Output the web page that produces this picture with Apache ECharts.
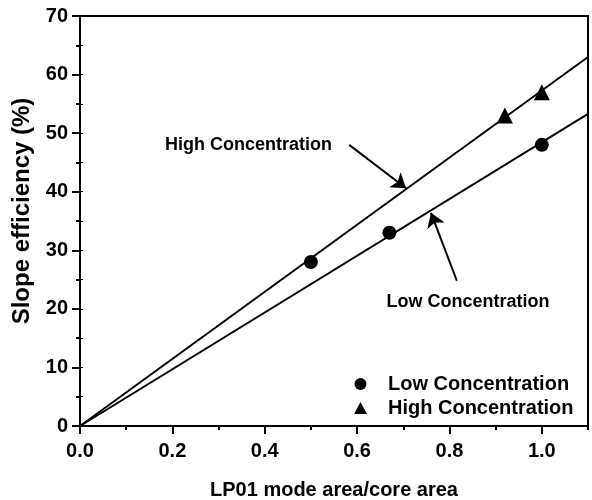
<!DOCTYPE html>
<html>
<head>
<meta charset="utf-8">
<title>Slope efficiency</title>
<script src="https://cdn.jsdelivr.net/npm/echarts@6/dist/echarts.min.js"></script>
<style>
  html, body { margin: 0; padding: 0; background: #fff; }
  #chart { width: 592px; height: 500px; }
</style>
</head>
<body>
<div id="chart"></div>
<script>
// measured points
var lowPoints = [[0.5, 28], [0.67, 33], [1.0, 48]];
var highPoints = [[0.92, 53], [1.0, 57]];

// fitted lines through the origin
var lowFit = [[0, 0], [1.1, 53.3]];
var highFit = [[0, 0], [1.1, 63]];

// annotation texts and arrows
var notes = [[0.365, 48, 'High Concentration'], [0.84, 21.2, 'Low Concentration']];
var arrowHigh = [[0.583, 48], [0.706, 40.6]];
var arrowLow = [[0.816, 24.8], [0.760, 36.4]];

var seriesNames = ['Low Concentration', 'High Concentration'];
var xTicks = [0, 0.2, 0.4, 0.6, 0.8, 1.0];

var font = 'Liberation Sans, Arial, sans-serif';
var ink = '#000';

var chart = echarts.init(document.getElementById('chart'));

var option = {
  animation: false,
  backgroundColor: '#fff',
  textStyle: { fontFamily: font, color: ink },
  grid: {
    left: 80, right: 4, top: 16, bottom: 74,
    outerBoundsMode: 'none',
    show: true, borderColor: ink, borderWidth: 2, backgroundColor: 'transparent'
  },
  legend: {
    data: [
      { name: seriesNames[0], icon: 'circle' },
      { name: seriesNames[1], icon: 'triangle' }
    ],
    orient: 'vertical',
    left: 349, top: 369,
    itemWidth: 13, itemHeight: 12, itemGap: 4,
    selectedMode: false,
    textStyle: { fontSize: 20, fontWeight: 'bold', color: ink, fontFamily: font, padding: [0, 0, 0, 16] }
  },
  xAxis: [{
    type: 'value',
    min: 0, max: 1.1, interval: 0.2,
    splitLine: { show: false },
    axisLine: { lineStyle: { color: ink, width: 2 } },
    axisTick: { customValues: xTicks, length: 8, lineStyle: { color: ink, width: 2 } },
    axisLabel: {
      customValues: xTicks,
      margin: 15, fontSize: 20, fontWeight: 'bold', color: ink, fontFamily: font,
      formatter: function (v) { return v.toFixed(1); }
    },
    name: 'LP01 mode area/core area',
    nameLocation: 'middle', nameGap: 54,
    nameTextStyle: { fontSize: 20, fontWeight: 'bold', color: ink, fontFamily: font }
  }, {
    // minor ticks on the bottom edge (top axis pulled down by the grid height)
    type: 'value',
    position: 'top', offset: -410,
    min: 0, max: 1.1, interval: 0.1,
    splitLine: { show: false },
    axisLine: { show: false },
    axisTick: { inside: true, length: 4, lineStyle: { color: ink, width: 2 } },
    axisLabel: { show: false }
  }],
  yAxis: [{
    type: 'value',
    min: 0, max: 70, interval: 10,
    splitLine: { show: false },
    axisLine: { show: true, lineStyle: { color: ink, width: 2 } },
    axisTick: { length: 8, lineStyle: { color: ink, width: 2 } },
    minorTick: { show: true, splitNumber: 2, length: 4, lineStyle: { color: ink, width: 2 } },
    axisLabel: { margin: 12, fontSize: 20, fontWeight: 'bold', color: ink, fontFamily: font },
    name: 'Slope efficiency (%)',
    nameLocation: 'middle', nameGap: 46,
    nameTextStyle: { fontSize: 24, fontWeight: 'bold', color: ink, fontFamily: font, padding: [0, 0, 0, 20] }
  }, {
    type: 'value',
    position: 'right',
    min: 0, max: 70, interval: 10,
    splitLine: { show: false },
    axisLine: { show: true, lineStyle: { color: ink, width: 2 } },
    axisTick: { length: 3, lineStyle: { color: ink, width: 1 } },
    minorTick: { show: true, splitNumber: 2, length: 3, lineStyle: { color: ink, width: 1 } },
    axisLabel: { show: false }
  }],
  series: [{
    name: 'lowFit',
    type: 'line',
    data: lowFit,
    symbol: 'none',
    silent: true,
    lineStyle: { color: ink, width: 2 }
  }, {
    name: 'highFit',
    type: 'line',
    data: highFit,
    symbol: 'none',
    silent: true,
    lineStyle: { color: ink, width: 2 }
  }, {
    name: seriesNames[0],
    type: 'scatter',
    data: lowPoints,
    symbol: 'circle',
    symbolSize: 14,
    itemStyle: { color: ink, opacity: 1 }
  }, {
    name: seriesNames[1],
    type: 'scatter',
    data: highPoints,
    symbol: 'triangle',
    symbolSize: 16,
    itemStyle: { color: ink, opacity: 1 }
  }, {
    name: 'notes',
    type: 'scatter',
    data: notes,
    symbolSize: 0,
    silent: true,
    itemStyle: { opacity: 1 },
    label: {
      show: true,
      position: 'inside',
      fontSize: 18, fontWeight: 'bold', color: ink, fontFamily: font,
      formatter: function (p) { return p.value[2]; }
    },
    markLine: {
      silent: true,
      symbol: ['none', 'arrow'],
      symbolSize: 14,
      label: { show: false },
      lineStyle: { color: ink, width: 2, type: 'solid', opacity: 1 },
      data: [
        [{ coord: arrowHigh[0] }, { coord: arrowHigh[1] }],
        [{ coord: arrowLow[0] }, { coord: arrowLow[1] }]
      ]
    }
  }]
};

chart.setOption(option);
</script>
</body>
</html>
